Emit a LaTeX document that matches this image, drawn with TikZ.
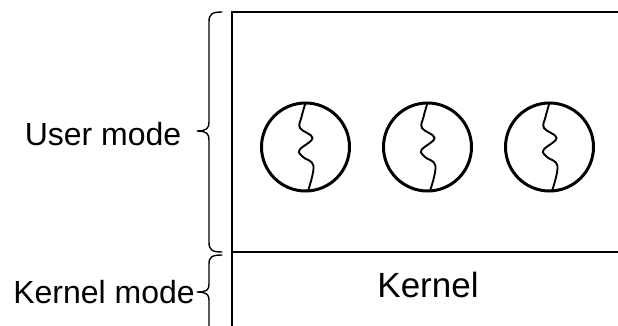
\documentclass[tikz,border=0pt]{standalone}
\usepackage{fontspec}
\setmainfont{Liberation Sans}
\begin{document}
\begin{tikzpicture}[x=1pt,y=-1pt,
  lbl/.style={font=\fontsize{32}{36}\selectfont, inner sep=0pt, anchor=base},
  threadc/.style={circle, draw, line width=3pt, minimum size=88pt, inner sep=0pt},
  wave/.style={line width=1.9pt, line cap=round},
  bracepath/.style={line width=1.4pt, line cap=round, line join=round},
  frame/.style={line width=2.6pt}]
\useasboundingbox (0,0) rectangle (618,326);

% frame of the address space
\coordinate (tl) at (232,12);
\coordinate (tr) at (618,12);
\coordinate (bl) at (232,326);
\coordinate (ml) at (232,252);
\coordinate (mr) at (618,252);
\draw[frame] (bl) -- (tl);
\draw[line width=2pt] ([xshift=-1.3pt]tl) -- (tr);
\draw[line width=1.4pt] (ml) -- (mr);

% braces for the two modes
\draw[bracepath] (222,12) .. controls (212,12) and (209,14) .. (209,22)
  -- (209,122) .. controls (209,128) and (207,131) .. (197,131)
  .. controls (207,131) and (209,134) .. (209,140)
  -- (209,242) .. controls (209,250) and (212,252) .. (222,252);
\draw[bracepath] (222,255) .. controls (212,255) and (209,257) .. (209,264)
  -- (209,284) .. controls (209,290) and (207,292) .. (197,292)
  .. controls (207,292) and (209,295) .. (209,300)
  -- (209,330);

% labels
\node[lbl] (user) at (103,146) {User mode};
\node[lbl] (kmode) at (104,303) {Kernel mode};
\node[lbl, font=\fontsize{35}{40}\selectfont] (kern) at (428,297) {Kernel};

% threads
\foreach \i/\cx in {1/305.5, 2/427.5, 3/549.5} {
  \node[threadc] (t\i) at (\cx,147) {};
  \draw[wave, shift={(t\i.center)}] plot[smooth, tension=0.65]
    coordinates {(0,-44) (-4,-30) (-5.5,-19) (7,-9) (-6,3) (-2.5,10) (8,19) (2.5,44)};
}
\end{tikzpicture}
\end{document}
